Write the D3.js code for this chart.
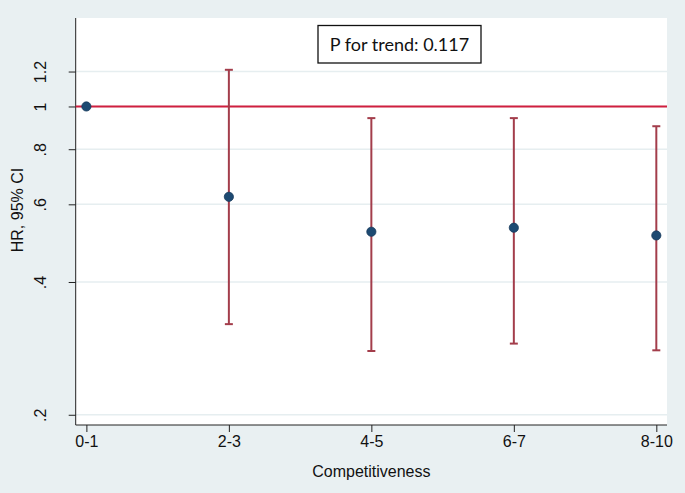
<!DOCTYPE html>
<html>
<head>
<meta charset="utf-8">
<script src="https://cdn.jsdelivr.net/npm/d3@7"></script>
<style>
  body { margin: 0; background: #e9f0f2; }
  svg { display: block; font-family: 'Liberation Sans', Arial, sans-serif; }
</style>
</head>
<body>
<svg width="685" height="493"></svg>
<script>
const categories = ['0-1', '2-3', '4-5', '6-7', '8-10'];
const hr = [1, 0.624, 0.520, 0.531, 0.510];
const lower = [null, 0.321, 0.279, 0.290, 0.280];
const upper = [null, 1.211, 0.941, 0.941, 0.902];
const yTicks = [0.2, 0.4, 0.6, 0.8, 1, 1.2];
const refLine = 1;
const trendText = 'P for trend: 0.117';

const data = categories.map((c, i) => ({cat: c, hr: hr[i], lo: lower[i], hi: upper[i]}));

const svg = d3.select('svg');
const margin = {top: 18, right: 18, bottom: 68, left: 75.7};
const width = +svg.attr('width') - margin.left - margin.right;
const height = +svg.attr('height') - margin.top - margin.bottom;

svg.append('rect')
  .attr('width', 685)
  .attr('height', 493)
  .attr('fill', '#e9f0f2');

const g = svg.append('g')
  .attr('transform', `translate(${margin.left},${margin.top})`);

g.append('rect')
  .attr('width', width)
  .attr('height', height)
  .attr('fill', '#fff');

const x = d3.scalePoint()
  .domain(categories)
  .range([0, width])
  .padding(0.075);

const y = d3.scaleLog()
  .domain([0.1896, 1.587])
  .range([height, 0]);

const fmt = d => d3.format('.1~f')(d).replace(/^0\./, '.');

// gridlines
g.append('g')
  .selectAll('line')
  .data(yTicks)
  .enter().append('line')
    .attr('x1', 0)
    .attr('x2', width)
    .attr('y1', d => y(d))
    .attr('y2', d => y(d))
    .attr('stroke', '#e6eef0')
    .attr('stroke-width', 1.5);

// y axis
const yAxis = g.append('g')
  .call(d3.axisLeft(y)
    .tickValues(yTicks)
    .tickFormat(fmt)
    .tickSize(7)
    .tickPadding(0));
yAxis.select('.domain').attr('stroke', '#222').attr('d', `M0,0V${height}`);
yAxis.selectAll('.tick line').attr('stroke', '#222');
yAxis.selectAll('.tick text')
  .attr('x', 0)
  .attr('dy', 0)
  .attr('transform', 'translate(-30,0) rotate(-90)')
  .attr('text-anchor', 'middle')
  .attr('font-size', 16)
  .attr('fill', '#111');

// x axis
const xAxis = g.append('g')
  .attr('transform', `translate(0,${height})`)
  .call(d3.axisBottom(x)
    .tickSize(7)
    .tickPadding(4));
xAxis.select('.domain').attr('stroke', '#222').attr('d', `M0,0H${width}`);
xAxis.selectAll('.tick line').attr('stroke', '#222');
xAxis.selectAll('.tick text')
  .attr('font-size', 16)
  .attr('fill', '#111');

// axis titles
svg.append('text')
  .attr('transform', 'translate(23,210) rotate(-90)')
  .attr('text-anchor', 'middle')
  .attr('font-size', 16)
  .attr('fill', '#111')
  .text('HR, 95% CI');

svg.append('text')
  .attr('x', margin.left + width / 2)
  .attr('y', 477)
  .attr('text-anchor', 'middle')
  .attr('font-size', 16)
  .attr('fill', '#111')
  .text('Competitiveness');

// reference line
g.append('line')
  .attr('x1', 0)
  .attr('x2', width)
  .attr('y1', y(refLine))
  .attr('y2', y(refLine))
  .attr('stroke', '#d01f3f')
  .attr('stroke-width', 2);

// confidence intervals
const ci = g.append('g')
  .attr('stroke', '#a33d4b')
  .attr('stroke-width', 2)
  .selectAll('g')
  .data(data.filter(d => d.lo != null))
  .enter().append('g');

ci.append('line')
  .attr('x1', d => x(d.cat))
  .attr('x2', d => x(d.cat))
  .attr('y1', d => y(d.lo))
  .attr('y2', d => y(d.hi));

ci.append('line')
  .attr('x1', d => x(d.cat) - 4)
  .attr('x2', d => x(d.cat) + 4)
  .attr('y1', d => y(d.lo))
  .attr('y2', d => y(d.lo));

ci.append('line')
  .attr('x1', d => x(d.cat) - 4)
  .attr('x2', d => x(d.cat) + 4)
  .attr('y1', d => y(d.hi))
  .attr('y2', d => y(d.hi));

// point estimates
g.append('g')
  .selectAll('circle')
  .data(data)
  .enter().append('circle')
    .attr('cx', d => x(d.cat))
    .attr('cy', d => y(d.hr))
    .attr('r', 4.6)
    .attr('fill', '#1d4a72')
    .attr('stroke', '#163a5c')
    .attr('stroke-width', 0.8);

// trend box
const box = svg.append('g');
box.append('rect')
  .attr('x', 318)
  .attr('y', 25.5)
  .attr('width', 163)
  .attr('height', 37.5)
  .attr('fill', '#fff')
  .attr('stroke', '#111')
  .attr('stroke-width', 1.3);
box.append('text')
  .attr('x', 399.5)
  .attr('y', 50.5)
  .attr('text-anchor', 'middle')
  .attr('font-family', 'Lato, "Open Sans", sans-serif')
  .attr('font-size', 18)
  .attr('fill', '#111')
  .text(trendText);
</script>
</body>
</html>
